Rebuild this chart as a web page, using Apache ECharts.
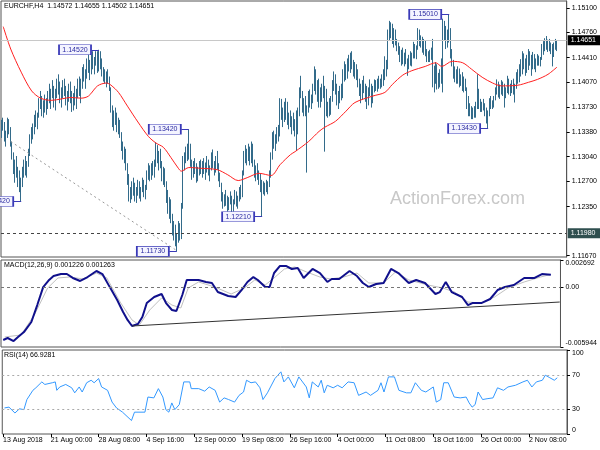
<!DOCTYPE html>
<html><head><meta charset="utf-8">
<script src="https://cdn.jsdelivr.net/npm/echarts@6/dist/echarts.min.js"></script>
<style>html,body{margin:0;padding:0;background:#fff}#c{width:600px;height:450px}</style>
</head><body><div id="c"></div>
<script>
// Prices are stored as pips above 1.1000 (e.g. 452 -> 1.14520)
const pipBase = 1.1;
const barOpen = [
335,350,345,330,335,352,340,322,305,285, 295,280,270,262,268,285,292,283,295,310,
330,338,345,355,350,362,380,375,370,378, 372,380,388,382,395,392,378,390,405,395,
385,396,402,392,380,390,398,385,375,388, 382,393,405,395,405,420,412,418,435,428,
432,440,430,438,445,425,448,432,420,418, 412,418,410,398,370,352,360,355,345,350,
335,318,305,310,290,270,250,255,262,258, 250,258,265,252,258,270,255,262,280,288,
275,290,282,295,318,300,305,292,275,285, 268,245,232,240,218,200,205,188,192,205,
195,235,300,305,312,305,318,295,285,292, 288,275,285,292,285,292,285,290,298,282,
288,305,292,285,300,290,275,265,248,240, 248,242,235,245,240,232,242,252,240,248,
258,250,280,305,300,310,305,298,318,295, 282,285,278,272,265,262,258,265,260,268,
280,305,332,322,330,340,335,378,360,368, 358,378,352,360,350,355,345,348,340,365,
395,392,372,380,365,370,390,380,385,400, 420,398,405,385,395,388,400,385,370,375,
368,382,405,415,400,385,390,398,388,420, 428,415,435,430,442,430,420,428,418,405,
395,385,405,398,390,378,395,392,380,398, 402,398,408,402,410,405,420,432,428,475,
485,478,470,475,462,455,450,440,445,438, 442,436,430,440,435,445,458,448,455,475,
462,468,455,460,448,445,438,448,442,410, 418,428,405,415,410,435,485,475,460,470,
480,445,435,418,422,412,420,408,415,400, 410,398,375,365,372,360,368,362,375,395,
375,370,378,372,365,358,362,380,374,378, 385,396,402,392,400,395,402,388,396,410,
398,402,405,395,400,415,410,428,420,442, 430,435,425,448,438,428,440,432,435,440,
436,440,455,458,462,458,462,455,458,445, 458,457.2];
const barHigh = [
355,358,352,340,358,356,345,325,310,300, 305,290,285,275,290,300,305,298,315,335,
345,350,362,368,365,385,395,388,382,390, 385,395,405,398,410,402,398,412,418,408,
400,410,412,402,395,405,408,395,392,402, 398,412,415,412,428,432,425,440,448,438,
445,450,442,450,450,452,450,440,428,425, 422,425,415,400,375,368,372,365,358,355,
338,325,318,315,295,280,262,270,275,268, 262,272,270,262,275,272,265,285,295,292,
295,298,300,324,320,312,315,298,290,288, 270,258,248,245,225,215,210,198,215,212,
240,305,310,318,322,342,322,300,298,302, 295,290,298,300,298,302,296,305,300,292,
310,314,298,305,312,295,282,268,255,252, 258,250,248,256,250,245,258,256,250,262,
265,285,312,320,315,322,318,325,322,300, 292,295,285,280,272,270,268,272,270,285,
310,338,340,335,345,348,385,384,372,380, 385,380,365,368,360,365,356,368,372,400,
416,395,385,388,375,395,397,390,405,429, 425,410,412,400,405,416,402,398,380,385,
388,410,422,418,405,395,402,405,425,436, 432,440,445,448,450,438,435,432,425,412,
405,410,416,405,402,400,411,405,402,411, 410,412,416,412,418,425,443,438,480,492,
490,488,482,480,467,462,457,452,455,448, 453,440,445,450,448,463,460,458,482,480,
472,470,467,465,453,450,452,455,467,430, 435,432,420,425,440,495,492,485,480,501,
482,453,438,429,425,429,426,418,421,415, 412,400,388,378,374,372,374,380,418,398,
384,380,384,378,372,368,385,388,382,388, 400,411,408,404,410,408,405,400,416,412,
405,410,412,405,421,425,432,439,450,447, 440,445,453,450,445,449,446,440,446,444,
442,460,464,468,471,466,467,462,460,462, 467,465.5];
const barLow = [
330,340,325,318,330,335,318,300,280,268, 275,262,255,242,262,275,278,275,290,305,
322,328,335,345,342,358,370,360,358,365, 362,370,378,370,385,372,368,385,390,378,
372,385,388,375,368,380,378,366,368,375, 370,385,388,378,398,408,398,412,420,410,
418,425,418,430,420,422,425,415,408,405, 400,405,395,365,345,340,348,338,335,330,
312,300,295,285,265,242,240,245,250,242, 240,250,246,242,255,248,245,258,272,270,
272,278,275,290,295,285,288,270,265,262, 240,225,218,212,195,188,180,173,185,188,
190,232,285,295,298,300,290,272,275,280, 268,270,278,280,275,280,272,282,278,270,
285,288,278,282,286,270,262,242,232,235, 236,228,230,238,226,228,238,235,232,242,
245,248,278,295,292,298,292,295,290,275, 270,272,265,255,221,252,250,255,252,262,
275,300,315,312,322,325,332,355,345,352, 355,348,342,345,335,340,332,312,335,360,
385,365,360,360,282,365,372,370,378,395, 390,380,372,372,380,385,311,360,358,360,
362,380,395,390,375,370,378,382,385,408, 410,412,422,420,425,415,412,410,400,388,
378,383,392,380,370,375,388,372,378,393, 395,394,398,398,400,402,410,415,425,465,
468,460,455,458,450,445,435,430,432,429, 432,416,425,430,429,440,440,439,452,457,
455,448,445,443,435,435,435,438,400,393, 405,397,398,400,405,393,465,453,455,462,
440,429,412,407,405,405,400,402,395,393, 395,370,360,360,356,356,358,358,370,370,
366,366,368,360,350,343,360,370,370,372, 382,390,386,384,390,388,372,385,392,390,
388,392,390,379,398,405,407,415,418,425, 416,420,424,430,416,425,425,421,430,430,
429,438,445,450,452,449,450,446,429,442, 452,450.2];
const barClose = [
350,345,330,335,352,340,322,305,285,295, 280,270,262,268,285,292,283,295,310,330,
338,345,355,350,362,380,375,370,378,372, 380,388,382,395,392,378,390,405,395,385,
396,402,392,380,390,398,385,375,388,382, 393,405,395,405,420,412,418,435,428,432,
440,430,438,445,425,448,432,420,418,412, 418,410,398,370,352,360,355,345,350,335,
318,305,310,290,270,250,255,262,258,250, 258,265,252,258,270,255,262,280,288,275,
290,282,295,318,300,305,292,275,285,268, 245,232,240,218,200,205,188,192,205,195,
235,300,305,312,305,318,295,285,292,288, 275,285,292,285,292,285,290,298,282,288,
305,292,285,300,290,275,265,248,240,248, 242,235,245,240,232,242,252,240,248,258,
250,280,305,300,310,305,298,318,295,282, 285,278,272,262,262,258,265,260,268,280,
305,332,322,330,340,335,378,360,368,358, 378,352,360,350,355,345,348,340,365,395,
392,372,380,365,370,390,380,385,400,420, 398,405,385,395,388,400,385,370,375,368,
382,405,415,400,385,390,398,388,420,428, 415,435,430,442,430,420,428,418,405,395,
385,405,398,390,378,395,392,380,398,402, 398,408,402,410,405,420,432,428,475,485,
478,470,475,462,455,450,440,445,438,442, 436,430,440,435,445,458,448,455,475,462,
468,455,460,448,445,438,448,442,410,418, 428,405,415,410,435,485,475,460,470,480,
445,435,418,422,412,420,408,415,400,410, 398,375,365,372,360,368,362,375,395,375,
370,378,372,365,358,362,380,374,378,385, 396,402,392,400,395,402,388,396,410,398,
402,405,395,400,415,410,428,420,442,430, 435,425,448,438,428,440,432,435,440,436,
440,455,458,462,458,462,455,458,445,458, 457.2,465.1];

// moving average, read as [bar index, pips]
const maPoints = [[1,484],[6,453],[13,421],[20,395],[26,385],[33,382],[40,384],[46,386],[53,385],[58,388],[64,402],[70,406],[73,403],[78,393],[84,374],[91,352],[98,332],[103,323],[108,317],[113,303],[118,288],[120,284],[125,289],[133,288],[144,286],[151,279],[158,271],[164,275],[172,281],[180,278],[186,293],[193,307],[196,311],[205,325],[212,339],[216,345],[223,353],[230,367],[236,379],[248,388],[256,393],[261,404],[268,417],[274,423],[283,429],[290,434],[294,429],[301,436],[308,434],[314,425],[321,414],[328,406],[334,402],[345,403],[352,407],[358,411],[365,418],[371,428]];

const macdMain = [[1,-0.00525],[4,-0.00505],[8,-0.00535],[11,-0.00495],[15,-0.00446],[20,-0.00346],[24,-0.00178],[28,0.00000],[32,0.00071],[35,0.00110],[40,0.00130],[44,0.00130],[48,0.00091],[53,0.00061],[58,0.00100],[64,0.00160],[68,0.00130],[73,0.00000],[78,-0.00128],[82,-0.00247],[85,-0.00326],[88,-0.00386],[92,-0.00366],[95,-0.00297],[98,-0.00158],[103,-0.00098],[108,-0.00068],[111,-0.00158],[115,-0.00227],[118,-0.00237],[122,-0.00078],[125,0.00071],[133,0.00071],[138,0.00051],[142,0.00041],[146,-0.00049],[153,-0.00088],[158,-0.00098],[162,-0.00029],[166,0.00051],[170,0.00100],[173,0.00071],[178,0.00001],[181,0.00001],[184,0.00140],[188,0.00210],[192,0.00210],[196,0.00180],[200,0.00190],[204,0.00091],[210,0.00180],[215,0.00140],[220,0.00051],[223,0.00081],[228,0.00081],[235,0.00160],[240,0.00110],[244,0.00041],[248,0.00001],[253,0.00031],[258,0.00041],[263,0.00180],[268,0.00140],[275,0.00041],[280,0.00071],[286,0.00041],[293,-0.00068],[296,-0.00049],[300,0.00051],[304,-0.00049],[311,-0.00098],[315,-0.00178],[318,-0.00158],[324,-0.00158],[330,-0.00118],[335,-0.00029],[340,0.00001],[346,0.00021],[353,0.00091],[360,0.00091],[365,0.00130],[371,0.001226]];
const macdSignal = [[2,-0.00495],[13,-0.00475],[22,-0.00277],[31,-0.00009],[38,0.00091],[46,0.00100],[55,0.00081],[64,0.00140],[71,0.00091],[80,-0.00148],[88,-0.00326],[93,-0.00376],[100,-0.00227],[108,-0.00108],[115,-0.00178],[121,-0.00207],[126,-0.00009],[133,0.00051],[144,0.00001],[155,-0.00068],[164,-0.00009],[171,0.00071],[178,0.00021],[184,0.00091],[191,0.00180],[198,0.00200],[206,0.00150],[215,0.00100],[222,0.00081],[231,0.00100],[240,0.00140],[248,0.00041],[258,0.00041],[266,0.00150],[275,0.00071],[288,0.00021],[298,-0.00009],[306,-0.00049],[315,-0.00148],[324,-0.00158],[333,-0.00098],[342,-0.00009],[353,0.00051],[364,0.00100],[371,0.001263]];
const rsiPoints = [[1,31],[4,32],[8,25],[11,30],[14,29],[16,41],[20,52],[22,55],[26,62],[28,59],[33,61],[35,62],[36,52],[38,56],[42,59],[46,55],[48,49],[51,56],[53,50],[56,61],[59,64],[61,61],[64,66],[66,56],[70,52],[73,38],[76,31],[80,26],[83,21],[86,16],[88,26],[91,26],[95,26],[97,44],[101,43],[104,54],[107,44],[109,29],[111,26],[113,37],[115,29],[118,35],[121,62],[125,62],[126,54],[131,54],[135,51],[138,56],[142,52],[145,38],[148,43],[151,41],[155,38],[158,46],[161,50],[163,64],[166,61],[169,62],[172,55],[174,41],[177,49],[182,66],[186,74],[188,62],[191,68],[195,55],[198,68],[199,66],[203,56],[205,43],[207,62],[211,56],[213,64],[215,49],[217,58],[221,55],[224,58],[227,55],[231,62],[235,61],[238,46],[243,50],[246,46],[251,52],[253,61],[255,50],[258,68],[262,68],[265,52],[270,49],[273,49],[276,61],[280,52],[283,50],[288,56],[290,38],[293,41],[295,61],[298,61],[302,44],[306,43],[310,44],[312,37],[314,32],[316,35],[318,50],[321,41],[324,42],[328,43],[331,55],[335,52],[338,56],[343,58],[348,62],[351,64],[354,56],[357,62],[361,64],[363,70],[366,67],[369,64],[371,66.9281]];

const tickLabels = ['13 Aug 2018','21 Aug 00:00','28 Aug 08:00','4 Sep 16:00','12 Sep 00:00','19 Sep 08:00','26 Sep 16:00','4 Oct 00:00','11 Oct 08:00','18 Oct 16:00','26 Oct 00:00','2 Nov 08:00'];
const barsPerTick = 32;
const slotCount = 378;
const priceTicks = [1.15100,1.14760,1.14410,1.14070,1.13730,1.13380,1.13040,1.12700,1.12350,1.11670];
const priceRange = [1.11652, 1.15195];
const macdTicks = [-0.005944, 0, 0.002692];
const rsiTicks = [0, 30, 70, 100];
const rsiLevels = [30, 70];
const lastPrice = 1.14651;
const supportLevel = 1.11980;
const pivots = [[65,1.14520],[125,1.13420],[117,1.11730],[174,1.12210],[299,1.15010],[325,1.13430],[13,1.12420]];
const trendMain = [[6,1.13250],[117,1.11740]];
const trendMacd = [[88,-0.00386],[377,-0.00148]];
const titleText = 'EURCHF,H4  1.14572 1.14655 1.14502 1.14651';
const macdTitle = 'MACD(12,26,9) 0.001226 0.001263';
const rsiTitle = 'RSI(14) 66.9281';

const toPrice = p => +(pipBase + p / 10000).toFixed(6);
const cats = Array.from({length: slotCount}, (_, i) => String(i));
const ohlc = barOpen.map((o, i) => [toPrice(o), toPrice(barClose[i]), toPrice(barLow[i]), toPrice(barHigh[i])]);
const ma = maPoints.map(d => [d[0], toPrice(d[1])]);

const ff = '"Liberation Sans",Arial,sans-serif';
const fs = 7;
const ts = {fontFamily: ff, fontSize: fs, color: '#000', fontWeight: 'normal'};
const frame = {show: true, borderColor: '#555', borderWidth: 1, backgroundColor: '#fff'};
const grids = [
  Object.assign({left: 1, top: 1, width: 566, height: 256}, frame),
  Object.assign({left: 1, top: 260, width: 566, height: 87}, frame),
  Object.assign({left: 1, top: 350, width: 566, height: 84}, frame)
];
const tickPick = idx => idx % barsPerTick === 0 && idx / barsPerTick < tickLabels.length;
const xAxes = [0,1,2].map(g => ({
  type: 'category', gridIndex: g, data: cats, boundaryGap: true,
  axisLine: {show: false}, splitLine: {show: false},
  axisTick: {show: g === 2, alignWithLabel: true, interval: tickPick, length: 3, lineStyle: {color: '#000'}},
  axisLabel: {show: g === 2, interval: tickPick, align: 'left', margin: 3,
    formatter: (v) => tickLabels[Math.round(+v / barsPerTick)] || '',
    fontFamily: ff, fontSize: fs, color: '#000'}
}));
function yAx(g, min, max, ticks, fmt, edgeAlign) {
  const lab = {customValues: ticks, formatter: fmt, margin: 5, fontFamily: ff, fontSize: fs, color: '#000'};
  if (edgeAlign) { lab.verticalAlignMinLabel = 'bottom'; lab.verticalAlignMaxLabel = 'top'; }
  return {type: 'value', gridIndex: g, position: 'right', min: min, max: max, scale: true,
    splitLine: {show: false},
    axisLine: {show: true, lineStyle: {color: '#555'}},
    axisTick: {show: true, length: 3, customValues: ticks, lineStyle: {color: '#000'}},
    axisLabel: lab};
}
const yAxes = [
  yAx(0, priceRange[0], priceRange[1], priceTicks, v => v.toFixed(5), false),
  yAx(1, macdTicks[0], macdTicks[2], macdTicks, v => Math.abs(v) < 1e-9 ? '0.00' : v.toFixed(6), true),
  yAx(2, 0, 100, rsiTicks, v => String(v), true)
];

const boxLabel = (bg, txt) => ({show: true, position: 'end', distance: 1, backgroundColor: bg, color: '#fff',
  padding: [2, 6, 1, 3], fontFamily: ff, fontSize: fs, formatter: txt});

const option = {
  animation: false,
  backgroundColor: '#fff',
  title: [
    {text: titleText, left: 4, top: 3, padding: 0, textStyle: ts},
    {text: macdTitle, left: 4, top: 262, padding: 0, textStyle: ts},
    {text: rsiTitle, left: 4, top: 352, padding: 0, textStyle: ts}
  ],
  graphic: [{type: 'text', left: 390, top: 190, z: 0, silent: true,
    style: {text: 'ActionForex.com', fill: '#c8c8c8', font: '18px "Liberation Sans", Arial, sans-serif'}}],
  grid: grids, xAxis: xAxes, yAxis: yAxes,
  series: [
    {type: 'candlestick', xAxisIndex: 0, yAxisIndex: 0, data: ohlc, barWidth: 0.5, z: 3,
      itemStyle: {color: '#336b8a', color0: '#336b8a', borderColor: '#336b8a', borderColor0: '#336b8a', borderWidth: 1},
      markPoint: {silent: true, animation: false,
        data: pivots.map(p => ({coord: [p[0], p[1]], value: p[1].toFixed(5)})),
        symbol: 'rect', symbolSize: [32, 10], symbolOffset: [-24, 0],
        itemStyle: {color: '#f4f4ff', borderColor: '#3a3ab8', borderWidth: 1},
        label: {show: true, position: 'inside', formatter: d => d.value, color: '#2a2aa0', fontFamily: ff, fontSize: fs}
      }
    },
    {type: 'line', xAxisIndex: 0, yAxisIndex: 0, data: ma, showSymbol: false, smooth: 0.3, z: 4,
      lineStyle: {color: '#ff2020', width: 1},
      markLine: {silent: true, symbol: ['none', 'none'], animation: false, precision: 6,
        data: [
          {yAxis: lastPrice, lineStyle: {color: '#c8c8c8', type: 'solid', width: 1}, label: boxLabel('#000', lastPrice.toFixed(5))},
          {yAxis: supportLevel, lineStyle: {color: '#444', type: [3, 3], width: 1}, label: boxLabel('#2f4f4f', supportLevel.toFixed(5))},
          [{coord: trendMain[0], lineStyle: {color: '#999', type: [2, 3], width: 1}, label: {show: false}}, {coord: trendMain[1]}]
        ].concat(pivots.map(p => [{coord: [p[0] - 5, p[1]], lineStyle: {color: '#3a3ab8', type: 'solid', width: 1}, label: {show: false}}, {coord: [p[0], p[1]]}]))
      }},
    {type: 'line', xAxisIndex: 1, yAxisIndex: 1, data: macdSignal, showSymbol: false, z: 3,
      lineStyle: {color: '#c0c0c0', width: 1},
      markLine: {silent: true, symbol: ['none', 'none'], label: {show: false}, precision: 6,
        data: [
          {yAxis: 0, lineStyle: {color: '#777', type: [3, 3], width: 1}},
          [{coord: trendMacd[0], lineStyle: {color: '#333', type: 'solid', width: 1}}, {coord: trendMacd[1]}]
        ]}},
    {type: 'line', xAxisIndex: 1, yAxisIndex: 1, data: macdMain, showSymbol: false, z: 4,
      lineStyle: {color: '#10108c', width: 2}},
    {type: 'line', xAxisIndex: 2, yAxisIndex: 2, data: rsiPoints, showSymbol: false, z: 4,
      lineStyle: {color: '#3399ff', width: 1},
      markLine: {silent: true, symbol: ['none', 'none'], label: {show: false},
        data: rsiLevels.map(v => ({yAxis: v, lineStyle: {color: '#aaa', type: [2, 3], width: 1}}))}}
  ]
};
const chart = echarts.init(document.getElementById('c'), null, {renderer: 'canvas'});
chart.setOption(option);
</script></body></html>
